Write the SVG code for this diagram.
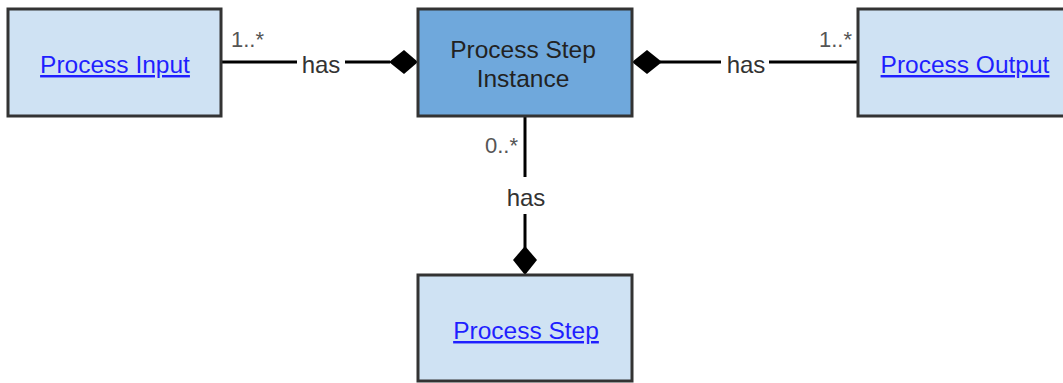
<svg xmlns="http://www.w3.org/2000/svg" width="1063" height="383" viewBox="0 0 1063 383">
<style>
.box{fill:#cfe2f3;stroke:#333;stroke-width:3}
.main{fill:#6fa8dc;stroke:#333;stroke-width:3}
.lnk{font-family:"Liberation Sans",Arial,sans-serif;font-size:24.5px;fill:#1f1fff;text-decoration:underline;text-anchor:middle}
.txt{font-family:"Liberation Sans",Arial,sans-serif;font-size:24.5px;fill:#222;text-anchor:middle}
.lbl{font-family:"Liberation Sans",Arial,sans-serif;font-size:24px;fill:#333;text-anchor:middle}
.mul{font-family:"Liberation Sans",Arial,sans-serif;font-size:22px;fill:#555}
.ln{stroke:#000;stroke-width:3;fill:none}
.dia{fill:#000}
</style>
<rect width="1063" height="383" fill="#fff"/>
<g id="connectors">
  <line class="ln" x1="221" y1="62" x2="297" y2="62"/>
  <line class="ln" x1="345" y1="62" x2="390" y2="62"/>
  <polygon class="dia" points="418,62 404,50 389,62 404,74"/>
  <text class="lbl" x="321" y="73">has</text>
  <text class="mul" x="231" y="47">1..*</text>

  <polygon class="dia" points="632,62 647,50 662,62 647,74"/>
  <line class="ln" x1="660" y1="62" x2="721" y2="62"/>
  <line class="ln" x1="769" y1="62" x2="858" y2="62"/>
  <text class="lbl" x="746" y="73">has</text>
  <text class="mul" x="852" y="47" text-anchor="end">1..*</text>

  <line class="ln" x1="525" y1="117" x2="525" y2="177"/>
  <line class="ln" x1="525" y1="214" x2="525" y2="248"/>
  <polygon class="dia" points="525,246 537,260 525,275 513,260"/>
  <text class="lbl" x="526" y="206">has</text>
  <text class="mul" x="518" y="153" text-anchor="end">0..*</text>
</g>
<g id="process-input">
  <rect class="box" x="8" y="9" width="213" height="107"/>
  <text class="lnk" x="115" y="73">Process Input</text>
</g>
<g id="process-step-instance">
  <rect class="main" x="418" y="9" width="214" height="107"/>
  <text class="txt" x="523" y="58">Process Step</text>
  <text class="txt" x="523" y="87">Instance</text>
</g>
<g id="process-output">
  <rect class="box" x="858" y="9" width="214" height="107"/>
  <text class="lnk" x="965" y="73">Process Output</text>
</g>
<g id="process-step">
  <rect class="box" x="418" y="275" width="214" height="106"/>
  <text class="lnk" x="526" y="339">Process Step</text>
</g>
</svg>
